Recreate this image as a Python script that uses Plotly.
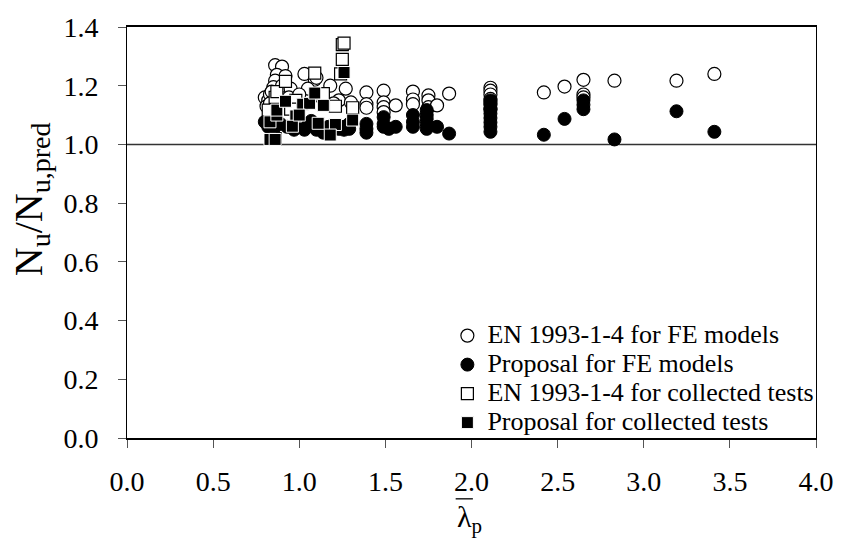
import plotly.graph_objects as go

# Slenderness (lambda_p) and resistance ratio N_u / N_u,pred for each data set
en_fe_x = [0.80, 0.82, 0.81, 0.83, 0.86, 0.90, 0.87, 0.92, 0.86, 0.85, 0.84, 0.83,
           0.90, 0.95, 0.94, 1.03, 1.09, 1.10, 1.05, 1.00, 1.18, 1.27, 1.23, 1.30,
           1.13, 1.20, 1.39, 1.39, 1.39, 1.49, 1.49, 1.49, 1.49, 1.56, 1.66, 1.66,
           1.66, 1.75, 1.75, 1.75, 1.80, 1.87, 2.11, 2.11, 2.11, 2.11, 2.11, 2.11,
           2.42, 2.54, 2.65, 2.65, 2.65, 2.83, 3.19, 3.41]
en_fe_y = [1.160, 1.150, 1.130, 1.170, 1.270, 1.265, 1.237, 1.233, 1.217, 1.195, 1.180, 1.140,
           1.200, 1.190, 1.160, 1.240, 1.220, 1.227, 1.190, 1.170, 1.200, 1.190, 1.150, 1.143,
           1.160, 1.140, 1.177, 1.137, 1.125, 1.183, 1.143, 1.127, 1.110, 1.133, 1.180, 1.153,
           1.137, 1.167, 1.150, 1.127, 1.133, 1.173, 1.193, 1.183, 1.170, 1.155, 1.140, 1.120,
           1.177, 1.197, 1.220, 1.170, 1.160, 1.217, 1.217, 1.240]

prop_fe_x = [0.80, 0.82, 0.85, 0.89, 0.93, 0.97, 1.03, 1.03, 1.07, 1.10, 1.14, 1.17,
             1.23, 1.26, 1.26, 1.29, 1.29, 1.39, 1.39, 1.39, 1.49, 1.49, 1.49, 1.52,
             1.56, 1.66, 1.66, 1.66, 1.74, 1.74, 1.74, 1.74, 1.74, 1.80, 1.87, 2.11,
             2.11, 2.11, 2.11, 2.11, 2.11, 2.11, 2.11, 2.42, 2.54, 2.65, 2.65, 2.65,
             2.83, 3.19, 3.41]
prop_fe_y = [1.077, 1.060, 1.050, 1.070, 1.060, 1.050, 1.070, 1.050, 1.080, 1.050, 1.040, 1.060,
             1.053, 1.060, 1.050, 1.070, 1.053, 1.070, 1.053, 1.040, 1.093, 1.070, 1.060, 1.053,
             1.060, 1.100, 1.077, 1.060, 1.117, 1.100, 1.087, 1.070, 1.053, 1.060, 1.037, 1.150,
             1.135, 1.120, 1.105, 1.090, 1.075, 1.060, 1.043, 1.033, 1.087, 1.150, 1.135, 1.120,
             1.017, 1.113, 1.043]

en_test_x = [0.86, 0.82, 0.86, 0.87, 0.92, 0.98, 0.95, 1.09, 1.14, 1.21, 1.31,
             1.25, 1.26, 1.25, 1.24]
en_test_y = [1.020, 1.117, 1.160, 1.180, 1.215, 1.150, 1.120, 1.243, 1.173, 1.130, 1.125,
             1.340, 1.345, 1.290, 1.240]

prop_test_x = [0.83, 0.86, 0.83, 0.87, 0.87, 0.92, 0.98, 0.96, 1.02, 1.06, 1.09,
               1.14, 1.11, 1.21, 1.18, 1.31, 1.26, 1.00]
prop_test_y = [1.017, 1.017, 1.077, 1.100, 1.117, 1.147, 1.097, 1.062, 1.137, 1.140, 1.175,
               1.133, 1.072, 1.068, 1.032, 1.083, 1.245, 1.100]

x_ticks = [0.0, 0.5, 1.0, 1.5, 2.0, 2.5, 3.0, 3.5, 4.0]
y_ticks = [0.0, 0.2, 0.4, 0.6, 0.8, 1.0, 1.2, 1.4]

SERIF = "Times New Roman, Liberation Serif, Times, serif"
LEGEND_TEXT_PX = 26


def legend_label(text):
    return f'<span style="font-size:{LEGEND_TEXT_PX}px">{text}</span>'


fig = go.Figure()

fig.add_trace(go.Scatter(
    x=en_fe_x, y=en_fe_y, mode="markers", name=legend_label("EN 1993-1-4 for FE models"),
    marker=dict(symbol="circle", size=13, color="white",
                line=dict(color="black", width=1.2))))
fig.add_trace(go.Scatter(
    x=prop_fe_x, y=prop_fe_y, mode="markers", name=legend_label("Proposal for FE models"),
    marker=dict(symbol="circle", size=13, color="black",
                line=dict(color="black", width=1))))
fig.add_trace(go.Scatter(
    x=en_test_x, y=en_test_y, mode="markers",
    name=legend_label("EN 1993-1-4 for collected tests"),
    marker=dict(symbol="square", size=12, color="white",
                line=dict(color="black", width=1.2))))
fig.add_trace(go.Scatter(
    x=prop_test_x, y=prop_test_y, mode="markers",
    name=legend_label("Proposal for collected tests"),
    marker=dict(symbol="square", size=12, color="black",
                line=dict(color="white", width=1))))

# unity line N_u / N_u,pred = 1
fig.add_shape(type="line", xref="x", yref="y", x0=0, x1=4, y0=1, y1=1,
              line=dict(color="#333333", width=1.5), layer="below")

# overline for the slenderness symbol
fig.add_shape(type="line", xref="paper", yref="paper", x0=0.477, x1=0.502,
              y0=-0.148, y1=-0.148, line=dict(color="black", width=1.3))

fig.add_annotation(text="λ<sub>p</sub>", xref="paper", yref="paper",
                   x=0.497, y=-0.145, xanchor="center", yanchor="top",
                   showarrow=False, font=dict(family=SERIF, size=30, color="black"))

fig.add_annotation(text="N<sub>u</sub>/N<sub>u,pred</sub>", xref="paper", yref="paper",
                   x=-0.140, y=0.58, xanchor="center", yanchor="middle", textangle=-90,
                   showarrow=False, font=dict(family=SERIF, size=40, color="black"))

fig.update_xaxes(range=[0, 4], tickvals=x_ticks, ticktext=[f"{v:.1f}" for v in x_ticks],
                 ticks="outside", ticklen=8, tickcolor="#555555", ticklabelstandoff=9,
                 showline=True, linecolor="black", linewidth=2, mirror=True,
                 showgrid=False, zeroline=False,
                 tickfont=dict(family=SERIF, size=28, color="black"))
fig.update_yaxes(range=[0, 1.4], tickvals=y_ticks, ticktext=[f"{v:.1f}" for v in y_ticks],
                 ticks="outside", ticklen=8, tickcolor="#555555", ticklabelstandoff=14,
                 showline=True, linecolor="black", linewidth=1, mirror=True,
                 showgrid=False, zeroline=False,
                 tickfont=dict(family=SERIF, size=28, color="black"))

fig.update_layout(
    width=846, height=542,
    margin=dict(l=127, r=19, t=18, b=104),
    paper_bgcolor="white", plot_bgcolor="white",
    font=dict(family=SERIF, color="black"),
    showlegend=True,
    legend=dict(x=0.465, y=-0.01, xanchor="left", yanchor="bottom",
                bgcolor="rgba(0,0,0,0)", tracegroupgap=0, itemwidth=30,
                font=dict(family=SERIF, size=20, color="black")),
)

fig.write_html("out.html")
